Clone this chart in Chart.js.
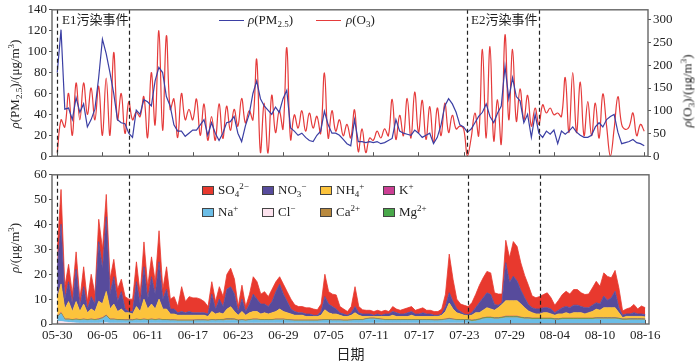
<!DOCTYPE html>
<html>
<head>
<meta charset="utf-8">
<script src="https://cdn.jsdelivr.net/npm/chart.js@4.4.1/dist/chart.umd.min.js"></script>
<style>
  body { margin: 0; background: #fff; }
  #wrap { position: relative; width: 700px; height: 364px; overflow: hidden; background: #fff; }
  canvas { position: absolute; left: 0; }
  .t { position: absolute; font: 13px 'Liberation Serif', 'DejaVu Serif', serif; color: #222; white-space: nowrap; line-height: 13px; }
  .t sub, .t sup { font-size: 9px; line-height: 0; position: relative; vertical-align: baseline; }
  .t sub { top: 3px; }
  .t sup { top: -5px; }
  .rot { transform: translate(-50%, -50%) rotate(-90deg); }
  .ln { position: absolute; height: 0; width: 25px; }
  .bx { position: absolute; width: 10px; height: 7px; border: 1px solid #444; }
  .ev { font-family: 'Liberation Serif', 'Noto Sans CJK SC', serif; }
</style>
</head>
<body>
<div id="wrap">
  <canvas id="topChart" width="700" height="166" style="top:0"></canvas>
  <canvas id="ionChart" width="700" height="199" style="top:165px"></canvas>

  <div class="t ev" style="left:62px;top:13px">E1污染事件</div>
  <div class="t ev" style="left:471px;top:13px">E2污染事件</div>

  <div class="ln" style="left:219px;top:20px;border-top:1.3px solid #3b3fa4"></div>
  <div class="t" style="left:248px;top:13px"><i>ρ</i>(PM<sub>2.5</sub>)</div>
  <div class="ln" style="left:316px;top:20px;border-top:1.3px solid #e53b3b"></div>
  <div class="t" style="left:346px;top:13px"><i>ρ</i>(O<sub>3</sub>)</div>

  <div class="t rot" style="left:14px;top:84px"><i>ρ</i>(PM<sub>2.5</sub>)/(μg/m<sup>3</sup>)</div>
  <div class="t rot" style="left:687px;top:91px"><i>ρ</i>(O<sub>3</sub>)/(μg/m<sup>3</sup>)</div>
  <div class="t rot" style="left:14px;top:248px"><i>ρ</i>/(μg/m<sup>3</sup>)</div>

  <div id="ionLegend"></div>
</div>

<script>
// time axis: days since 05-30, one sample every 12 hours
const STEP = 0.5;
const tickDays = [0, 6, 12, 18, 24, 30, 36, 42, 48, 54, 60, 66, 72, 78];
const tickLabels = ['05-30', '06-05', '06-11', '06-17', '06-23', '06-29', '07-05',
                    '07-11', '07-17', '07-23', '07-29', '08-04', '08-10', '08-16'];
const eventDays = [0, 9.5, 54.5, 64];

const pm25 = [
  80, 121, 45, 46, 35, 56, 42, 50, 28, 35,
  45, 75, 112, 98, 80, 60, 35, 32, 31, 22,
  18, 44, 40, 54, 52, 48, 72, 85, 80, 57,
  48, 30, 24, 24, 19, 22, 25, 25, 30, 35,
  20, 32, 22, 15, 22, 32, 33, 38, 22, 14,
  29, 40, 60, 72, 55, 48, 44, 40, 47, 42,
  55, 63, 27, 24, 20, 22, 18, 15, 14, 20,
  24, 43, 30, 22, 22, 20, 16, 12, 10, 35,
  14, 14, 13, 14, 13, 14, 12, 13, 15, 17,
  35, 24, 22, 21, 20, 25, 22, 18, 20, 22,
  12, 18, 30, 48, 55, 50, 42, 30, 28, 23,
  26, 32, 38, 42, 50, 38, 32, 41, 48, 86,
  55, 75, 57, 53, 32, 40, 18, 40, 22, 18,
  24, 21, 25, 12, 24, 21, 24, 28, 23, 20,
  18, 18, 20, 28, 32, 28, 35, 38, 40, 23,
  12, 13, 14, 16, 13, 12, 10
];
const o3 = [
  8, 80, 64, 138, 46, 161, 80, 161, 92, 150,
  80, 154, 46, 172, 46, 228, 80, 138, 50, 120,
  80, 97, 87, 131, 41, 184, 69, 276, 57, 265,
  103, 126, 41, 138, 80, 103, 80, 126, 46, 115,
  35, 87, 35, 115, 39, 110, 57, 103, 66, 127,
  73, 100, 80, 213, 8, 117, 7, 134, 52, 100,
  60, 239, 37, 91, 62, 100, 55, 95, 62, 88,
  50, 183, 40, 100, 55, 80, 45, 70, 40, 102,
  10, 60, 8, 40, 35, 55, 40, 60, 45, 125,
  37, 90, 45, 127, 40, 141, 52, 123, 37, 109,
  30, 106, 45, 117, 52, 90, 60, 66, 60, 0,
  40, 95, 45, 235, 40, 241, 34, 124, 27, 267,
  80, 235, 77, 148, 80, 134, 66, 106, 70, 113,
  95, 106, 91, 95, 87, 173, 52, 184, 52, 163,
  45, 120, 45, 117, 40, 137, 66, 0, 60, 131,
  70, 59, 65, 95, 45, 70, 55
];

const so4 = [
  8, 14, 5, 7, 4, 7, 3, 8, 3, 9,
  4, 9, 8, 9, 6, 7, 5, 5, 5, 5,
  5, 8, 4, 10, 5, 8, 5, 12.5, 4, 9,
  4, 5, 2.5, 10, 4.5, 6, 6, 6, 5.5, 4.5,
  3, 5, 3, 5, 4, 6, 7.5, 6, 2, 5.6,
  2, 4, 7, 7, 4, 5, 4, 5, 4, 3,
  4, 4, 4, 2.7, 2.5, 2.5, 2.5, 2.5, 2.5, 2.2,
  3, 9, 5, 5, 5.7, 2.5, 2, 1.5, 2.5, 8,
  2.5, 1.7, 1.5, 1.5, 1.5, 1.5, 1.5, 1.5, 1, 2,
  1.5, 1.5, 2, 2, 2, 1.5, 2, 2, 1.5, 1.5,
  1.5, 1.5, 2, 5, 15.5, 9, 4, 3, 3.5, 3.3,
  4, 5.3, 7, 8, 8.6, 8.7, 4.7, 4.5, 3.5, 9,
  10, 13.9, 13.9, 11, 9, 7.7, 4.7, 4.5, 5, 5.3,
  6, 4.5, 3, 4, 5.3, 6.1, 5.5, 6.3, 6.3, 5.5,
  5.3, 5.5, 7, 8.6, 7.1, 9.3, 9.6, 8, 8.4, 8,
  1.7, 2, 2.5, 3.3, 2, 3.2, 2.8
];
const no3 = [
  12, 24, 4, 8, 3, 13, 2, 7, 1.5, 5,
  3, 24, 14, 30, 6, 11, 4, 7, 1.5, 0.5,
  1, 10, 3, 13, 4, 11, 6, 15, 4, 8,
  2, 2, 1, 1.5, 1, 1.5, 1, 1, 1, 1,
  1, 7, 2, 5.5, 3, 8, 8, 7, 1.5, 5,
  1.5, 3.5, 7, 5, 4, 3.5, 3, 4.5, 8, 10,
  7, 4.5, 2, 1.5, 1, 1, 1, 1, 0.5, 0.5,
  1.5, 5.3, 3.5, 3, 2, 1, 1, 0.5, 1, 2.5,
  1, 1, 1, 1, 0.5, 1, 0.5, 1, 1, 1.5,
  1.5, 1, 1, 1.5, 1.5, 1, 1, 1.5, 1, 1,
  0.5, 0.5, 0.5, 2, 4.2, 3, 1.5, 1, 0.5, 0.4,
  1, 2, 4, 5, 6, 5.8, 2.3, 1, 0.7, 15.3,
  7.3, 9.9, 7.9, 5.5, 4, 2.6, 2, 2, 2, 2,
  2, 2, 1, 1.5, 2.5, 2.5, 2.5, 3, 3, 2.5,
  2.5, 2, 2.5, 2.6, 2.5, 4.7, 3, 4, 6.6, 2,
  1, 1, 1, 1.5, 1, 1, 0.9
];
const nh4 = [
  7, 11.5, 4, 7, 3.2, 7, 3.2, 6, 2.7, 4,
  3.2, 7, 5.5, 9.5, 4, 6, 3.2, 4.2, 2.8, 2.8,
  2.3, 5, 3.2, 8, 4.2, 6, 4.2, 8, 4.2, 4.2,
  2.3, 2.3, 1.9, 1.9, 1.9, 1.9, 1.9, 1.8, 1.8, 1.8,
  1.4, 3.2, 2.3, 2.7, 2.2, 3.8, 4.8, 3, 1.9, 3.2,
  1.9, 2.7, 3, 3, 2.2, 2.7, 2.2, 2.7, 3, 4,
  3, 2.7, 2.3, 1.9, 1.9, 1.9, 1.4, 1.4, 1.4, 1.4,
  1.8, 3.9, 2.7, 2.3, 2.3, 1.8, 1.4, 1.4, 1.8, 2.7,
  1.7, 1.2, 0.8, 0.6, 0.6, 0.8, 1, 1.2, 1.2, 1.7,
  1.2, 1.2, 1.2, 1.2, 1.7, 1.2, 1.2, 1.2, 1.2, 1.2,
  1.3, 1.3, 1.7, 3, 6.1, 4, 2.7, 2.2, 1.7, 1.5,
  2, 2.8, 2.5, 3, 3.8, 3.3, 3, 4, 5.1, 6.2,
  6.2, 6.2, 6.2, 5.3, 4, 2.7, 2.2, 1.7, 1.7, 2.2,
  2.2, 1.7, 1.4, 1.9, 1.7, 2.2, 1.7, 2.2, 2.2, 2.2,
  1.7, 2.2, 2.7, 3.4, 3, 4, 4, 4, 4, 2.2,
  0.5, 1, 0.9, 0.9, 0.9, 0.9, 0.8
];
const kIon = [
  0.2, 0.2, 0.1, 0.1, 0.1, 0.1, 0.1, 0.1, 0.1, 0.1,
  0.1, 0.2, 0.2, 0.2, 0.1, 0.1, 0.1, 0.1, 0.1, 0.1,
  0.1, 0.1, 0.1, 0.1, 0.1, 0.1, 0.1, 0.1, 0.1, 0.1,
  0.1, 0.1, 0.1, 0.1, 0.1, 0.1, 0.1, 0.1, 0.1, 0.1,
  0.1, 0.1, 0.1, 0.1, 0.1, 0.1, 0.1, 0.1, 0.1, 0.1,
  0.1, 0.1, 0.1, 0.1, 0.1, 0.1, 0.1, 0.1, 0.1, 0.1,
  0.1, 0.1, 0.1, 0.1, 0.1, 0.1, 0.1, 0.1, 0.1, 0.1,
  0.1, 0.1, 0.1, 0.1, 0.1, 0.1, 0.1, 0.1, 0.1, 0.1,
  0.1, 0.1, 0.1, 0.1, 0.1, 0.1, 0.1, 0.1, 0.1, 0.1,
  0.1, 0.1, 0.1, 0.1, 0.1, 0.1, 0.1, 0.1, 0.1, 0.1,
  0.1, 0.1, 0.1, 0.1, 0.2, 0.1, 0.1, 0.1, 0.1, 0.1,
  0.1, 0.1, 0.1, 0.1, 0.1, 0.1, 0.1, 0.1, 0.1, 0.2,
  0.2, 0.2, 0.2, 0.1, 0.1, 0.1, 0.1, 0.1, 0.1, 0.1,
  0.1, 0.1, 0.1, 0.1, 0.1, 0.1, 0.1, 0.1, 0.1, 0.1,
  0.1, 0.1, 0.1, 0.1, 0.1, 0.1, 0.1, 0.1, 0.1, 0.1,
  0.1, 0.1, 0.1, 0.1, 0.1, 0.1, 0.1
];
const naIon = [
  1.6, 3.1, 0.8, 1.0, 0.9, 1.2, 1.1, 1.3, 1.1, 1.3,
  1.1, 1.3, 1.7, 2.6, 1.3, 1.3, 1.1, 1.1, 1.0, 1.0,
  1.0, 1.3, 1.1, 1.3, 1.1, 1.3, 1.1, 1.3, 1.1, 1.1,
  1.0, 1.0, 0.9, 0.9, 0.9, 0.9, 0.9, 1.0, 1.0, 1.0,
  0.9, 1.1, 1.0, 1.1, 1.0, 1.2, 1.2, 1.2, 0.9, 1.1,
  0.9, 1.1, 1.3, 1.3, 1.1, 1.1, 1.1, 1.1, 1.3, 1.3,
  1.3, 1.1, 1.0, 0.9, 0.9, 0.9, 0.9, 0.9, 0.9, 0.9,
  1.0, 1.1, 1.1, 1.0, 1.0, 1.0, 0.9, 0.9, 1.0, 1.1,
  1.1, 1.1, 1.5, 1.7, 1.7, 1.5, 1.3, 1.1, 1.1, 1.1,
  1.1, 1.1, 1.1, 1.1, 1.1, 1.1, 1.1, 1.1, 1.1, 1.1,
  1.0, 1.0, 1.1, 1.3, 1.5, 1.3, 1.1, 1.1, 1.1, 1.1,
  0.8, 1.0, 1.3, 1.8, 2.0, 2.0, 1.8, 1.8, 2.0, 2.3,
  2.3, 2.3, 2.3, 2.0, 1.8, 1.8, 1.6, 1.6, 1.6, 1.6,
  1.6, 1.6, 1.4, 1.4, 1.6, 1.6, 1.6, 1.6, 1.6, 1.6,
  1.6, 1.6, 1.6, 1.8, 1.8, 1.8, 1.8, 1.8, 1.8, 1.6,
  1.3, 1.3, 1.4, 1.4, 1.4, 1.4, 1.3
];
const clIon = [
  1.0, 1.0, 0.8, 0.6, 0.5, 0.4, 0.3, 0.3, 0.3, 0.3,
  0.3, 0.3, 0.4, 0.5, 0.3, 0.3, 0.3, 0.3, 0.3, 0.3,
  0.3, 0.3, 0.3, 0.3, 0.3, 0.3, 0.3, 0.3, 0.3, 0.3,
  0.3, 0.3, 0.3, 0.3, 0.3, 0.3, 0.3, 0.3, 0.3, 0.3,
  0.3, 0.3, 0.3, 0.3, 0.3, 0.3, 0.3, 0.3, 0.3, 0.3,
  0.3, 0.3, 0.3, 0.3, 0.3, 0.3, 0.3, 0.3, 0.3, 0.3,
  0.3, 0.3, 0.3, 0.3, 0.3, 0.3, 0.3, 0.3, 0.3, 0.3,
  0.3, 0.3, 0.3, 0.3, 0.3, 0.3, 0.3, 0.3, 0.3, 0.3,
  0.3, 0.3, 0.3, 0.3, 0.3, 0.3, 0.3, 0.3, 0.3, 0.3,
  0.3, 0.3, 0.3, 0.3, 0.3, 0.3, 0.3, 0.3, 0.3, 0.3,
  0.3, 0.3, 0.3, 0.3, 0.3, 0.3, 0.3, 0.3, 0.3, 0.3,
  0.2, 0.2, 0.2, 0.2, 0.2, 0.2, 0.2, 0.2, 0.2, 0.2,
  0.2, 0.2, 0.2, 0.2, 0.2, 0.2, 0.2, 0.2, 0.2, 0.2,
  0.2, 0.2, 0.2, 0.2, 0.2, 0.2, 0.2, 0.2, 0.2, 0.2,
  0.2, 0.2, 0.2, 0.2, 0.2, 0.2, 0.2, 0.2, 0.2, 0.2,
  0.2, 0.2, 0.2, 0.2, 0.2, 0.2, 0.2
];
const caIon = [
  0.15, 0.15, 0.15, 0.15, 0.15, 0.15, 0.15, 0.15, 0.15, 0.15,
  0.15, 0.15, 0.15, 0.15, 0.15, 0.15, 0.15, 0.15, 0.15, 0.15,
  0.15, 0.15, 0.15, 0.15, 0.15, 0.15, 0.15, 0.15, 0.15, 0.15,
  0.15, 0.15, 0.15, 0.15, 0.15, 0.15, 0.15, 0.15, 0.15, 0.15,
  0.15, 0.15, 0.15, 0.15, 0.3, 0.4, 0.4, 0.3, 0.15, 0.15,
  0.15, 0.15, 0.15, 0.15, 0.15, 0.15, 0.15, 0.15, 0.15, 0.15,
  0.15, 0.15, 0.15, 0.15, 0.15, 0.15, 0.15, 0.15, 0.15, 0.15,
  0.15, 0.15, 0.15, 0.15, 0.15, 0.15, 0.15, 0.15, 0.15, 0.15,
  0.15, 0.15, 0.15, 0.15, 0.15, 0.15, 0.15, 0.15, 0.15, 0.15,
  0.15, 0.15, 0.15, 0.15, 0.15, 0.15, 0.15, 0.15, 0.15, 0.15,
  0.15, 0.15, 0.15, 0.15, 0.15, 0.15, 0.15, 0.15, 0.15, 0.15,
  0.15, 0.15, 0.15, 0.15, 0.15, 0.15, 0.15, 0.15, 0.15, 0.15,
  0.15, 0.15, 0.15, 0.15, 0.15, 0.15, 0.15, 0.15, 0.15, 0.15,
  0.15, 0.15, 0.15, 0.15, 0.15, 0.15, 0.15, 0.15, 0.15, 0.15,
  0.15, 0.15, 0.15, 0.15, 0.15, 0.15, 0.15, 0.15, 0.15, 0.15,
  0.15, 0.15, 0.15, 0.15, 0.15, 0.15, 0.15
];
const mgIon = [
  0.15, 0.15, 0.15, 0.15, 0.15, 0.15, 0.15, 0.15, 0.15, 0.15,
  0.15, 0.15, 0.15, 0.15, 0.15, 0.15, 0.15, 0.15, 0.15, 0.15,
  0.15, 0.15, 0.15, 0.15, 0.15, 0.15, 0.15, 0.15, 0.15, 0.15,
  0.15, 0.15, 0.15, 0.15, 0.15, 0.15, 0.15, 0.15, 0.15, 0.15,
  0.15, 0.15, 0.15, 0.15, 0.15, 0.15, 0.15, 0.15, 0.15, 0.15,
  0.15, 0.15, 0.15, 0.15, 0.15, 0.15, 0.15, 0.15, 0.15, 0.15,
  0.15, 0.15, 0.15, 0.15, 0.15, 0.15, 0.15, 0.15, 0.15, 0.15,
  0.15, 0.15, 0.15, 0.15, 0.15, 0.15, 0.15, 0.15, 0.15, 0.15,
  0.15, 0.15, 0.15, 0.15, 0.15, 0.15, 0.15, 0.15, 0.15, 0.15,
  0.15, 0.15, 0.15, 0.15, 0.15, 0.15, 0.15, 0.15, 0.15, 0.15,
  0.15, 0.15, 0.15, 0.15, 0.15, 0.15, 0.15, 0.15, 0.15, 0.15,
  0.3, 0.3, 0.3, 0.3, 0.3, 0.3, 0.3, 0.3, 0.3, 0.3,
  0.3, 0.3, 0.3, 0.3, 0.3, 0.3, 0.3, 0.3, 0.3, 0.3,
  0.3, 0.3, 0.3, 0.3, 0.3, 0.3, 0.3, 0.3, 0.3, 0.3,
  0.3, 0.3, 0.3, 0.3, 0.3, 0.3, 0.3, 0.3, 0.3, 0.3,
  0.3, 0.3, 0.3, 0.3, 0.3, 0.3, 0.3
];

// stacking order, bottom first; legend order is separate
const ions = [
  { key: 'Cl',  html: 'Cl<sup>−</sup>',                 data: clIon,  color: '#fde3ee' },
  { key: 'Na',  html: 'Na<sup>+</sup>',                 data: naIon,  color: '#6bbde6' },
  { key: 'Ca',  html: 'Ca<sup>2+</sup>',                data: caIon,  color: '#b8893e' },
  { key: 'Mg',  html: 'Mg<sup>2+</sup>',                data: mgIon,  color: '#49a84a' },
  { key: 'K',   html: 'K<sup>+</sup>',                  data: kIon,   color: '#cc3f94' },
  { key: 'NH4', html: 'NH<sub>4</sub><sup>+</sup>',     data: nh4,    color: '#fcc33c' },
  { key: 'NO3', html: 'NO<sub>3</sub><sup>−</sup>',     data: no3,    color: '#574b9c' },
  { key: 'SO4', html: 'SO<sub>4</sub><sup>2−</sup>',    data: so4,    color: '#e8392e' }
];
const legendOrder = ['SO4', 'NO3', 'NH4', 'K', 'Na', 'Cl', 'Ca', 'Mg'];

const pts = arr => arr.map((v, i) => ({ x: i * STEP, y: v }));
const serif = "'Liberation Serif', 'Times New Roman', serif";
const tickFont = { family: serif, size: 13 };

// frame, inward x ticks and event boundaries
const marks = {
    id: 'marks',
    afterDatasetsDraw(chart) {
        const { ctx, chartArea: a, scales: { x } } = chart;
        ctx.save();
        ctx.strokeStyle = '#222';
        ctx.lineWidth = 1.2;
        ctx.setLineDash([4, 3]);
        eventDays.forEach(d => {
            const px = Math.round(x.getPixelForValue(d)) + 0.5;
            ctx.beginPath();
            ctx.moveTo(px, a.top);
            ctx.lineTo(px, a.bottom);
            ctx.stroke();
        });
        ctx.setLineDash([]);
        ctx.strokeStyle = '#555';
        ctx.lineWidth = 1;
        tickDays.forEach(d => {
            const px = Math.round(x.getPixelForValue(d)) + 0.5;
            ctx.beginPath();
            ctx.moveTo(px, a.bottom);
            ctx.lineTo(px, a.bottom - 4);
            ctx.stroke();
        });
        ctx.lineWidth = 1.4;
        ctx.strokeStyle = '#666';
        ctx.strokeRect(a.left, a.top, a.right - a.left, a.bottom - a.top);
        ctx.restore();
    }
};

function xAxis(display) {
    return {
        type: 'linear',
        min: -0.7,
        max: 78.5,
        display: display,
        afterBuildTicks: s => { s.ticks = tickDays.map(v => ({ value: v })); },
        ticks: {
            callback: v => tickLabels[tickDays.indexOf(v)],
            font: tickFont,
            color: '#222',
            padding: 4,
            maxRotation: 0,
            autoSkip: false
        },
        grid: { display: false, drawTicks: false },
        border: { display: false }
    };
}

function yAxis(position, max, step) {
    return {
        position: position,
        min: 0,
        max: max,
        ticks: { stepSize: step, font: tickFont, color: '#222', padding: 2, includeBounds: false },
        grid: { drawOnChartArea: false, tickLength: 3, color: '#555' },
        border: { display: false },
        afterFit: s => { s.width = 52; }
    };
}

new Chart(document.getElementById('topChart'), {
    type: 'line',
    data: {
        datasets: [
            {
                label: 'PM2.5',
                data: pts(pm25),
                yAxisID: 'y',
                borderColor: '#3b3fa4',
                borderWidth: 1.2,
                pointRadius: 0,
                tension: 0
            },
            {
                label: 'O3',
                data: pts(o3),
                yAxisID: 'y1',
                borderColor: '#e53b3b',
                borderWidth: 1.2,
                pointRadius: 0,
                tension: 0.4
            }
        ]
    },
    options: {
        responsive: false,
        animation: false,
        events: [],
        layout: { padding: { top: 7, bottom: 8, left: 0, right: 0 } },
        plugins: { legend: { display: false }, tooltip: { enabled: false } },
        scales: {
            x: xAxis(false),
            y: yAxis('left', 140, 20),
            y1: yAxis('right', 322, 50)
        }
    },
    plugins: [marks]
});

const bottomX = xAxis(true);
bottomX.title = {
    display: true,
    text: '日期',
    font: { family: "'Liberation Serif', 'Noto Sans CJK SC', serif", size: 14 },
    color: '#222',
    padding: { top: 3, bottom: 0 }
};
bottomX.afterFit = s => { s.height = 40; };
const bottomY = yAxis('left', 60, 10);
bottomY.stacked = true;

new Chart(document.getElementById('ionChart'), {
    type: 'line',
    data: {
        datasets: ions.map((ion, i) => ({
            label: ion.key,
            data: pts(ion.data),
            backgroundColor: ion.color,
            borderColor: ion.color,
            borderWidth: 0.8,
            pointRadius: 0,
            tension: 0,
            fill: i === 0 ? 'origin' : '-1'
        }))
    },
    options: {
        responsive: false,
        animation: false,
        events: [],
        layout: { padding: { top: 8, bottom: 0, left: 0, right: 51 } },
        plugins: { legend: { display: false }, tooltip: { enabled: false } },
        scales: { x: bottomX, y: bottomY }
    },
    plugins: [marks]
});

// legend for the ion panel, two rows of four
const legendCols = [202, 262, 320, 383];
const legendRows = [190, 212];
const legendBox = document.getElementById('ionLegend');
legendOrder.forEach((key, n) => {
    const ion = ions.find(o => o.key === key);
    const bx = legendCols[n % 4];
    const cy = legendRows[Math.floor(n / 4)];
    const box = document.createElement('div');
    box.className = 'bx';
    box.style.left = bx + 'px';
    box.style.top = (cy - 4) + 'px';
    box.style.background = ion.color;
    legendBox.appendChild(box);
    const txt = document.createElement('div');
    txt.className = 't';
    txt.style.left = (bx + 16) + 'px';
    txt.style.top = (cy - 7) + 'px';
    txt.innerHTML = ion.html;
    legendBox.appendChild(txt);
});
</script>
</body>
</html>
